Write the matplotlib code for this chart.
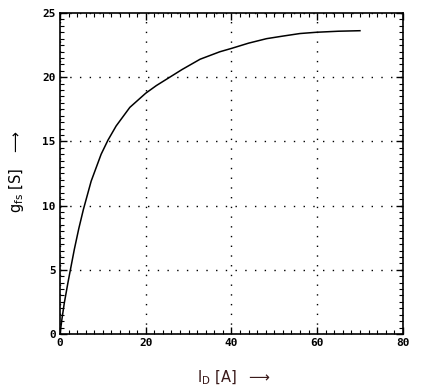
import matplotlib
matplotlib.use("Agg")
import matplotlib.pyplot as plt
from matplotlib.ticker import MultipleLocator

# values
i_d = [0.0, 0.47, 1.0, 1.8, 2.34, 3.35, 4.38, 5.46, 7.27, 9.6, 11.2, 13.1, 16.3,
       20.0, 22.5, 24.9, 28.5, 32.7, 37.3, 40.1, 44.0, 48.2, 52.0, 56.0, 59.9, 65.0, 70.0]
g_fs = [0.0, 1.2, 2.4, 3.9, 4.85, 6.6, 8.2, 9.7, 11.9, 14.0, 15.1, 16.2, 17.65,
        18.75, 19.35, 19.85, 20.6, 21.4, 21.98, 22.25, 22.65, 23.0, 23.2, 23.4, 23.5, 23.58, 23.62]

x_ticks = [0, 20, 40, 60, 80]
y_ticks = [0, 5, 10, 15, 20, 25]

fig = plt.figure(figsize=(4.24, 3.9), dpi=100)
ax = fig.add_axes([0.1415, 0.1436, 0.8085, 0.8231])

ax.plot(i_d, g_fs, '-', color='black', lw=1.1)

ax.set_xlim(0, 80)
ax.set_ylim(0, 25)
ax.set_xticks(x_ticks)
ax.set_yticks(y_ticks)
ax.xaxis.set_minor_locator(MultipleLocator(2))
ax.yaxis.set_minor_locator(MultipleLocator(0.5))
ax.xaxis.set_ticks_position("both")
ax.yaxis.set_ticks_position("both")
ax.tick_params(axis='both', which='major', direction="in", length=5, width=1, pad=3)
ax.tick_params(axis='both', which='minor', direction="in", length=3, width=0.8)
for lbl in ax.get_xticklabels() + ax.get_yticklabels():
    lbl.set_fontfamily('DejaVu Sans Mono')
    lbl.set_fontsize(8)
    lbl.set_fontweight('bold')

ax.grid(True, which='major', color='black', linestyle=(0, (1, 6)), lw=1.0)
for s in ax.spines.values():
    s.set_linewidth(1.2)

fig.text(0.038, 0.56, r'g$_{\mathrm{fs}}$ [S]   $\longrightarrow$', rotation=90,
         ha='center', va='center', fontsize=10.5, family='DejaVu Sans')
fig.text(0.55, 0.031, r'I$_{\mathrm{D}}$ [A]  $\longrightarrow$',
         ha='center', va='center', fontsize=10.5, family='DejaVu Sans', color='#3a1a1a')

plt.savefig('out.png', dpi=100)
